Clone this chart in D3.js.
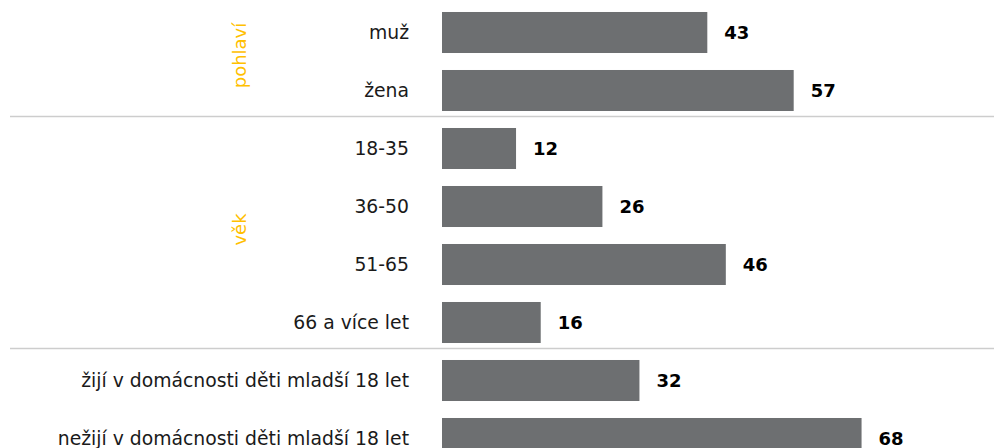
<!DOCTYPE html>
<html>
<head>
<meta charset="utf-8">
<script src="https://cdn.jsdelivr.net/npm/d3@7"></script>
<style>
  body { margin: 0; background: #fff; }
  svg { display: block; font-family: Verdana, "DejaVu Sans", sans-serif; }
</style>
</head>
<body>
<svg id="chart" width="994" height="448"></svg>
<script>
const categories = ['muž', 'žena', '18-35', '36-50', '51-65', '66 a více let',
  'žijí v domácnosti děti mladší 18 let', 'nežijí v domácnosti děti mladší 18 let'];
const values = [43, 57, 12, 26, 46, 16, 32, 68];
const groupNames = ['pohlaví', 'věk', ''];
const groupOf = [0, 0, 1, 1, 1, 1, 2, 2];

const W = 994, H = 448;
let svg, x, y;

function setup() {
  svg = d3.select('#chart');

  x = d3.scaleLinear().domain([0, 100]).range([442, 1059]);
  y = d3.scaleBand()
    .domain(categories)
    .range([3.5, 467.5])
    .paddingInner(0.293)
    .paddingOuter(0.1465);
}

function drawSeparators() {
  // a line above the first category of every group but the first
  const starts = groupNames.map((g, i) => categories[groupOf.indexOf(i)]).slice(1);
  svg.append('g')
    .selectAll('line')
    .data(starts)
    .join('line')
    .attr('x1', 10)
    .attr('x2', W)
    .attr('y1', d => Math.round(y(d) - 12) + 0.5)
    .attr('y2', d => Math.round(y(d) - 12) + 0.5)
    .attr('stroke', '#cdcdcd')
    .attr('stroke-width', 1.5);
}

function drawBars() {
  svg.append('g')
    .selectAll('rect')
    .data(values)
    .join('rect')
    .attr('x', x(0))
    .attr('y', (d, i) => y(categories[i]))
    .attr('width', d => x(d) - x(0))
    .attr('height', y.bandwidth())
    .attr('fill', '#6d6f71');

  svg.append('g')
    .selectAll('text')
    .data(values)
    .join('text')
    .attr('x', d => x(d) + 17)
    .attr('y', (d, i) => y(categories[i]) + y.bandwidth() / 2)
    .attr('dy', '0.35em')
    .attr('font-size', 18)
    .attr('font-weight', 'bold')
    .attr('fill', '#000')
    .text(d => d);
}

function drawLabels() {
  svg.append('g')
    .selectAll('text')
    .data(categories)
    .join('text')
    .attr('x', 409)
    .attr('y', d => y(d) + y.bandwidth() / 2)
    .attr('dy', '0.35em')
    .attr('text-anchor', 'end')
    .attr('font-size', 18.8)
    .attr('fill', '#1a1a1a')
    .text(d => d);

  const groups = groupNames.map((name, i) => {
    const cats = categories.filter((c, j) => groupOf[j] === i);
    const top = y(cats[0]);
    const bottom = y(cats[cats.length - 1]) + y.bandwidth();
    return { name, mid: (top + bottom) / 2 - 6 };
  }).filter(g => g.name);

  svg.append('g')
    .selectAll('text')
    .data(groups)
    .join('text')
    .attr('transform', d => `translate(246, ${d.mid}) rotate(-90)`)
    .attr('text-anchor', 'middle')
    .attr('font-size', 18)
    .attr('fill', '#ffc000')
    .text(d => d.name);
}

setup();
drawSeparators();
drawBars();
drawLabels();
</script>
</body>
</html>
